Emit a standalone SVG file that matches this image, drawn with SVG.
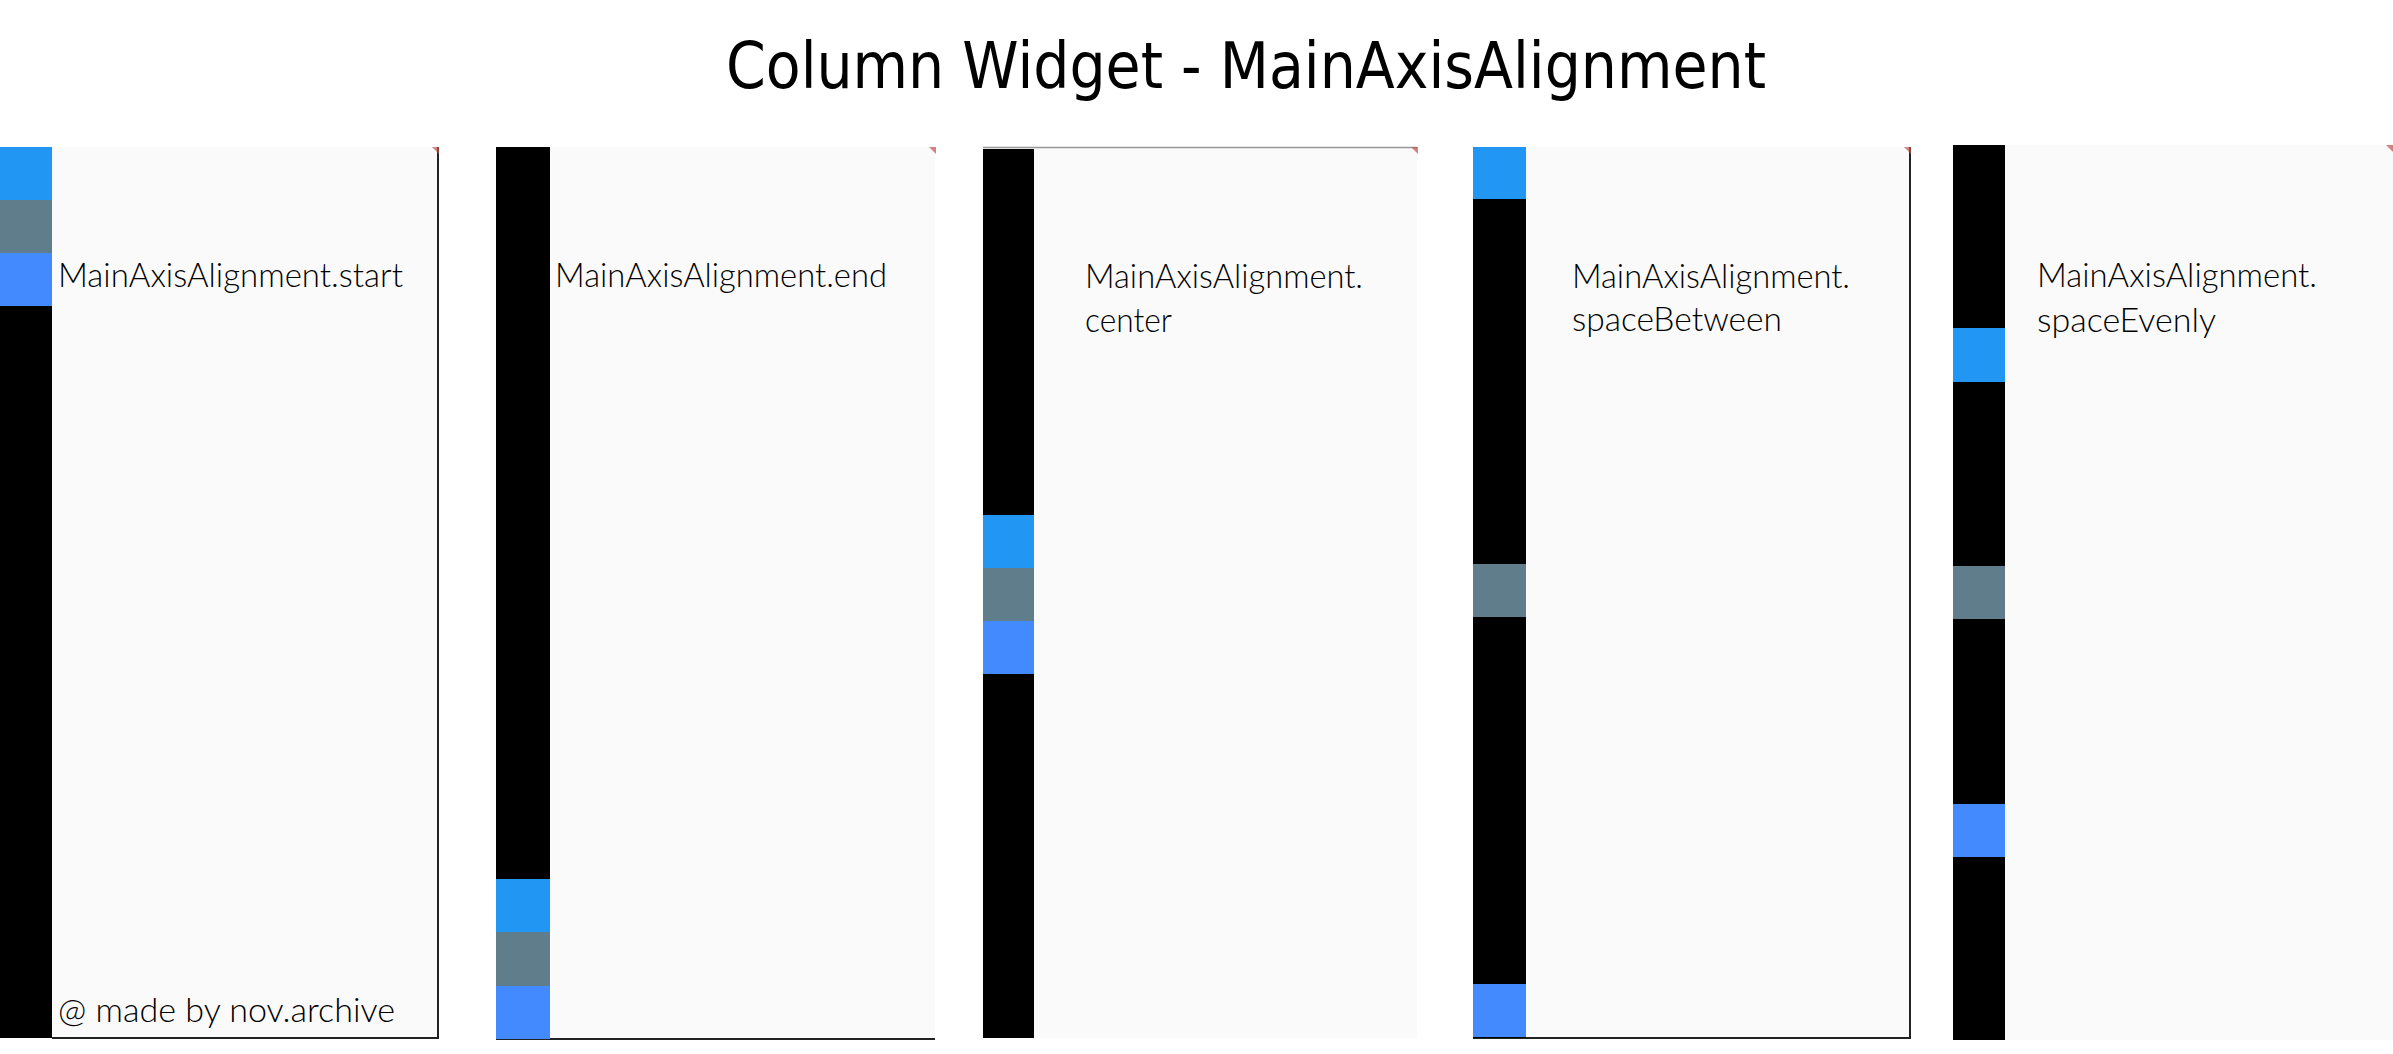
<svg xmlns="http://www.w3.org/2000/svg" width="2393" height="1054" viewBox="0 0 2393 1054">
<style>
.bg{fill:#fafafa}
.bar{fill:#000}
.b1{fill:#2196f3}
.g{fill:#607d8b}
.b2{fill:#448aff}
.edge{stroke:#222;stroke-width:2;fill:none}
.red{fill:#c0504d;opacity:0.7}
.lbl{font-family:Lato,"Open Sans",sans-serif;font-size:33px;font-weight:300;fill:#000}
.title{font-family:"DejaVu Sans",sans-serif;font-size:64px;fill:#000}
</style>
<rect width="2393" height="1054" fill="#fff"/>
<text class="title" x="726" y="88" textLength="1040" lengthAdjust="spacingAndGlyphs">Column Widget - MainAxisAlignment</text>

<g id="panel-start">
<rect class="bg" x="0" y="147" width="438" height="891"/>
<path class="edge" d="M438 147V1038H52"/>
<path class="red" d="M432 147H439V154Z"/>
<rect class="bar" x="0" y="147" width="52" height="891"/>
<rect class="b1" x="0" y="147" width="52" height="53"/>
<rect class="g" x="0" y="200" width="52" height="53"/>
<rect class="b2" x="0" y="253" width="52" height="53"/>
<text class="lbl" x="58" y="287" textLength="345" lengthAdjust="spacingAndGlyphs">MainAxisAlignment.start</text>
<text class="lbl" x="58" y="1022" textLength="337" lengthAdjust="spacingAndGlyphs">@ made by nov.archive</text>
</g>

<g id="panel-end">
<rect class="bg" x="496" y="147" width="439" height="892"/>
<path class="edge" d="M496 1039H935"/>
<path class="red" d="M929 147H936V154Z"/>
<rect class="bar" x="496" y="147" width="54" height="892"/>
<rect class="b1" x="496" y="879" width="54" height="53"/>
<rect class="g" x="496" y="932" width="54" height="54"/>
<rect class="b2" x="496" y="986" width="54" height="53"/>
<text class="lbl" x="555" y="287" textLength="332" lengthAdjust="spacingAndGlyphs">MainAxisAlignment.end</text>
</g>

<g id="panel-center">
<rect class="bg" x="983" y="147" width="434" height="891"/>
<path d="M983 147.5H1417" stroke="#999" stroke-width="1.5"/>
<path class="red" d="M1411 147H1418V154Z"/>
<rect class="bar" x="983" y="149" width="51" height="889"/>
<rect class="b1" x="983" y="515" width="51" height="53"/>
<rect class="g" x="983" y="568" width="51" height="53"/>
<rect class="b2" x="983" y="621" width="51" height="53"/>
<text class="lbl" x="1085" y="288" textLength="278" lengthAdjust="spacingAndGlyphs">MainAxisAlignment.</text>
<text class="lbl" x="1085" y="332" textLength="87" lengthAdjust="spacingAndGlyphs">center</text>
</g>

<g id="panel-spaceBetween">
<rect class="bg" x="1473" y="147" width="437" height="891"/>
<path class="edge" d="M1910 147V1038H1473"/>
<path class="red" d="M1904 147H1911V154Z"/>
<rect class="bar" x="1473" y="147" width="53" height="891"/>
<rect class="b1" x="1473" y="147" width="53" height="52"/>
<rect class="g" x="1473" y="564" width="53" height="53"/>
<rect class="b2" x="1473" y="984" width="53" height="53"/>
<text class="lbl" x="1572" y="288" textLength="278" lengthAdjust="spacingAndGlyphs">MainAxisAlignment.</text>
<text class="lbl" x="1572" y="331" textLength="210" lengthAdjust="spacingAndGlyphs">spaceBetween</text>
</g>

<g id="panel-spaceEvenly">
<rect class="bg" x="1953" y="145" width="440" height="895"/>
<path class="red" d="M2386 145H2393V152Z"/>
<rect class="bar" x="1953" y="145" width="52" height="895"/>
<rect class="b1" x="1953" y="328" width="52" height="54"/>
<rect class="g" x="1953" y="566" width="52" height="53"/>
<rect class="b2" x="1953" y="804" width="52" height="53"/>
<text class="lbl" x="2037" y="287" textLength="280" lengthAdjust="spacingAndGlyphs">MainAxisAlignment.</text>
<text class="lbl" x="2037" y="332" textLength="179" lengthAdjust="spacingAndGlyphs">spaceEvenly</text>
</g>
</svg>
